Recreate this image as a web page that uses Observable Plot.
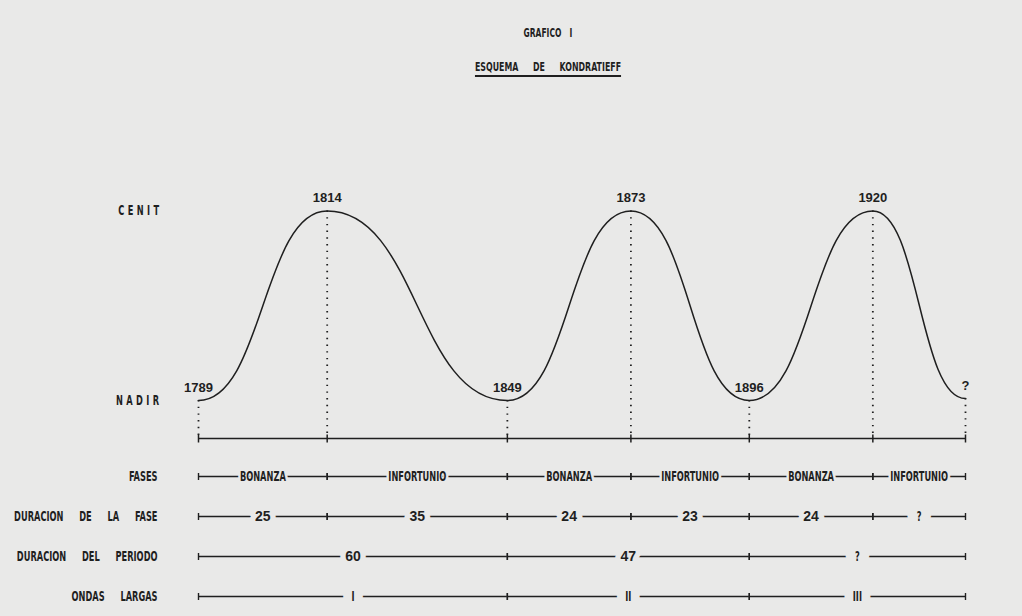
<!DOCTYPE html>
<html>
<head>
<meta charset="utf-8">
<script src="https://cdn.jsdelivr.net/npm/d3@7"></script>
<script src="https://cdn.jsdelivr.net/npm/@observablehq/plot@0.6"></script>
<style>
  html, body { margin: 0; padding: 0; background: #e9e9e8; }
  #wrap { position: relative; width: 1022px; height: 616px; overflow: hidden; background: #e9e9e8; }
  .cond { font-family: "Liberation Sans Narrow", "DejaVu Sans Condensed", "Arial Narrow", sans-serif; font-weight: bold; color: #1f1f1f; white-space: pre; }
  #t1 { position: absolute; left: 548px; top: 26px; transform: translateX(-50%) scaleX(0.7); font-size: 12px; line-height: 14px; word-spacing: 8px; }
  #t2 { position: absolute; left: 548px; top: 60px; transform: translateX(-50%) scaleX(0.7); font-size: 12.5px; line-height: 14px; word-spacing: 17px;
        text-decoration: underline; text-underline-offset: 4px; text-decoration-thickness: 1.5px; }
  #p1 { position: absolute; left: 0; top: 90px; }
  #p2 { position: absolute; left: 0; top: 450px; }
</style>
</head>
<body>
<div id="wrap">
  <div id="t1" class="cond">GRAFICO I</div>
  <div id="t2" class="cond">ESQUEMA DE KONDRATIEFF</div>
  <div id="p1"></div>
  <div id="p2"></div>
</div>
<script>
// ---------- data ----------
const turningYears  = [1789, 1814, 1849, 1873, 1896, 1920, 1938]; // last one: unknown end ("?")
const turningLabels = ["1789", "1814", "1849", "1873", "1896", "1920", "?"];
const turningLevels = [0, 1, 0, 1, 0, 1, 0.01];                    // 0 = NADIR, 1 = CENIT
const levelNames    = ["NADIR", "CENIT"];
const phaseNames     = ["BONANZA", "INFORTUNIO", "BONANZA", "INFORTUNIO", "BONANZA", "INFORTUNIO"];
const phaseDurations = ["25", "35", "24", "23", "24", "?"];
const periodDurations = ["60", "47", "?"];
const longWaves       = ["I", "II", "III"];
const rowNames = ["FASES", "DURACION DE LA FASE", "DURACION DEL PERIODO", "ONDAS LARGAS"];

// ---------- styles ----------
const INK = "#1f1f1f";
const BG = "#e9e9e8";
const K = 0.68; // horizontal condensing of the lettering
const COND = "'Liberation Sans Narrow', 'DejaVu Sans Condensed', 'Arial Narrow', sans-serif";
const SANS = "'Liberation Sans', Arial, Helvetica, sans-serif";
const vbar = {draw(ctx, size) { const h = Math.sqrt(size / Math.PI); ctx.moveTo(0, -h); ctx.lineTo(0, h); }};
// squeeze glyphs horizontally around each text's own anchor point
function condense(svg, selector, k) {
  d3.select(svg).selectAll(selector).each(function () {
    const t = d3.select(this);
    const xa = t.attr("x");
    if (xa != null && isFinite(+xa)) t.attr("x", +xa / k);
    const tr = t.attr("transform") || "";
    t.attr("transform", `${tr} scale(${k},1)`);
  });
}
const CONDSEL = 'g[font-family*="Narrow"] text';

// ---------- derived tables ----------
const pts = turningYears.map((year, i) => ({year, level: turningLevels[i], label: turningLabels[i]}));
const nadirYears = turningYears.filter((_, i) => i % 2 === 0);
const segs = [];
phaseNames.forEach((l, i) => segs.push({row: rowNames[0], start: turningYears[i], end: turningYears[i + 1], label: l, kind: "word"}));
phaseDurations.forEach((l, i) => segs.push({row: rowNames[1], start: turningYears[i], end: turningYears[i + 1], label: l, kind: l === "?" ? "q" : "num"}));
periodDurations.forEach((l, i) => segs.push({row: rowNames[2], start: nadirYears[i], end: nadirYears[i + 1], label: l, kind: l === "?" ? "q" : "num"}));
longWaves.forEach((l, i) => segs.push({row: rowNames[3], start: nadirYears[i], end: nadirYears[i + 1], label: l, kind: "roman"}));
const bounds = [];
segs.forEach(s => { bounds.push({row: s.row, x: s.start}); bounds.push({row: s.row, x: s.end}); });
const mid = d => (d.start + d.end) / 2;

const xDomain = [turningYears[0], turningYears[turningYears.length - 1]];
const common = {width: 1022, marginLeft: 198, marginRight: 57, marginTop: 0, marginBottom: 0,
  style: {background: "transparent", overflow: "visible", color: INK}};

// ---------- plot 1: the wave ----------
const p1 = Plot.plot({
  ...common,
  height: 360,
  x: {domain: xDomain, axis: null},
  y: {domain: [0, 1], range: [310, 120.5], label: null},
  marks: [
    Plot.axisY({ticks: [0, 1], tickFormat: d => levelNames[d], tickSize: 0, tickPadding: 36, label: null,
      fontFamily: COND, fontWeight: "bold", fontSize: 13.5, fill: INK}),
    Plot.ruleX(pts, {x: "year", y1: "level", y2: 0, insetTop: 0, insetBottom: -38,
      stroke: INK, strokeWidth: 1.8, strokeDasharray: "1.4,5.3"}),
    Plot.ruleY([0], {x1: xDomain[0], x2: xDomain[1], dy: 38, stroke: INK, strokeWidth: 1.5}),
    Plot.dot(turningYears, {x: d => d, y: 0, dy: 38, symbol: vbar, r: 4, fill: "none", stroke: INK, strokeWidth: 1.5}),
    Plot.line(pts, {x: "year", y: "level", curve: "bump-x", stroke: INK, strokeWidth: 1.5}),
    Plot.text(pts, {x: "year", y: "level", text: "label", dy: -13, fontFamily: SANS, fontWeight: "bold", fontSize: 13, fill: INK})
  ]
});
document.getElementById("p1").append(p1);
d3.select(p1).selectAll(CONDSEL).style("letter-spacing", "5px");
condense(p1, CONDSEL, K);

// ---------- plot 2: the timeline rows ----------
const p2 = Plot.plot({
  ...common,
  height: 166,
  x: {domain: xDomain, axis: null},
  y: {type: "point", domain: rowNames, range: [26, 146], padding: 0, label: null},
  marks: [
    Plot.axisY({tickSize: 0, tickPadding: 41, label: null, fontFamily: COND, fontWeight: "bold", fontSize: 13.5, fill: INK}),
    Plot.ruleY(segs, {y: "row", x1: "start", x2: "end", stroke: INK, strokeWidth: 1.4}),
    Plot.dot(bounds, {x: "x", y: "row", symbol: vbar, r: 3.5, fill: "none", stroke: INK, strokeWidth: 1.4}),
    Plot.text(segs.filter(d => d.kind === "word"), {x: mid, y: "row", text: "label",
      fontFamily: COND, fontWeight: "bold", fontSize: 13.5, fill: INK, stroke: BG, strokeWidth: 5 / K}),
    Plot.text(segs.filter(d => d.kind === "num"), {x: mid, y: "row", text: "label",
      fontFamily: SANS, fontWeight: "bold", fontSize: 14, fill: INK, stroke: BG, strokeWidth: 11}),
    Plot.text(segs.filter(d => d.kind === "q"), {x: mid, y: "row", text: "label",
      fontFamily: COND, fontWeight: "bold", fontSize: 13.5, fill: INK, stroke: BG, strokeWidth: 20 / K}),
    Plot.text(segs.filter(d => d.kind === "roman"), {x: mid, y: "row", text: "label",
      fontFamily: COND, fontWeight: "bold", fontSize: 13.5, fill: INK, stroke: BG, strokeWidth: 18 / K})
  ]
});
document.getElementById("p2").append(p2);
d3.select(p2).selectAll('g[aria-label="y-axis tick label"] text').style("word-spacing", "19px");
condense(p2, CONDSEL, K);
</script>
</body>
</html>
